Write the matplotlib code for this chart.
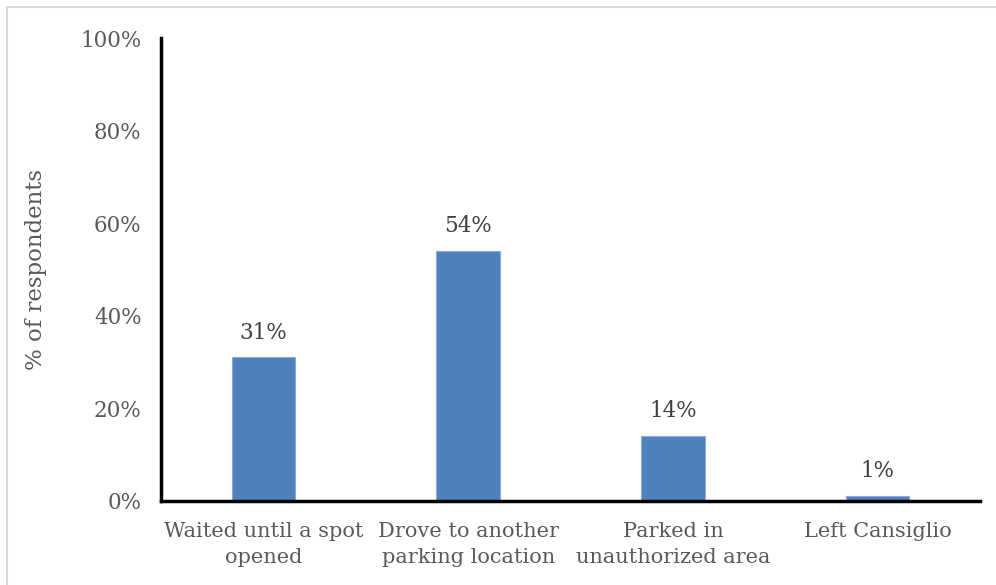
import matplotlib
matplotlib.use("Agg")
import matplotlib.pyplot as plt
from matplotlib.lines import Line2D

categories = ["Waited until a spot\nopened", "Drove to another\nparking location",
              "Parked in\nunauthorized area", "Left Cansiglio"]
values = [31, 54, 14, 1]
yticks = [0, 20, 40, 60, 80, 100]
ytick_labels = [f"{v}%" for v in yticks]

plt.rcParams["font.family"] = ["DejaVu Serif"]
text_color = "#595959"

fig = plt.figure(figsize=(9.96, 5.85), dpi=100)
ax = fig.add_axes([0.1617, 0.1436, 0.984 - 0.1617, 0.935 - 0.1436])

x = list(range(len(categories)))
ax.bar(x, values, width=0.31, color="#4F81BD", edgecolor="#8EAADB", linewidth=0.8, zorder=2)

for xi, v in zip(x, values):
    ax.text(xi, v + 3, f"{v}%", ha="center", va="bottom", fontsize=15.5, color="#404040")

ax.set_xlim(-0.5, 3.5)
ax.set_ylim(0, 100)
ax.set_yticks(yticks)
ax.set_yticklabels(ytick_labels, fontsize=15.5, color=text_color)
ax.set_xticks(x)
ax.set_xticklabels(categories, fontsize=15, color=text_color, linespacing=1.5)
ax.tick_params(axis="both", length=0)
ax.tick_params(axis="y", pad=14)
ax.tick_params(axis="x", pad=15)

for side in ("top", "right"):
    ax.spines[side].set_visible(False)
for side in ("left", "bottom"):
    ax.spines[side].set_linewidth(2.5)
    ax.spines[side].set_color("black")

ax.set_ylabel("% of respondents", fontsize=16.5, color=text_color, labelpad=24)

# light frame around the chart area
fig.add_artist(Line2D([7 / 996, 7 / 996], [0, 1 - 7 / 585], transform=fig.transFigure,
                      color="#D9D9D9", linewidth=1.5))
fig.add_artist(Line2D([7 / 996, 1], [1 - 7 / 585, 1 - 7 / 585], transform=fig.transFigure,
                      color="#D9D9D9", linewidth=1.5))

fig.savefig("out.png", dpi=100)
